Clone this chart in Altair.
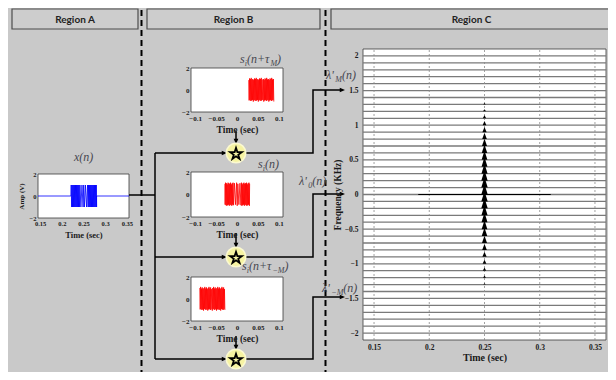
import altair as alt
import pandas as pd

SERIF = "Liberation Serif"
SANS = "Lato"

# ---------------- values ----------------
# Region A : x(n)  (time in s, amplitude in V)
xn_t = [0.145, 0.2210,
        0.2216, 0.2226, 0.2236, 0.2246, 0.2256, 0.2266, 0.2276, 0.2286, 0.2296, 0.2306,
        0.2316, 0.2326, 0.2336, 0.2346, 0.2356, 0.2366, 0.2376, 0.2386, 0.2396, 0.2406,
        0.2418, 0.2440, 0.2465, 0.2490, 0.2505, 0.2520, 0.2545, 0.2570, 0.2594,
        0.2606, 0.2616, 0.2626, 0.2636, 0.2646, 0.2656, 0.2666, 0.2676, 0.2686, 0.2696,
        0.2706, 0.2716, 0.2726, 0.2736, 0.2746, 0.2756, 0.2766, 0.2776, 0.2786, 0.2796,
        0.2802, 0.2802, 0.355]
xn_a = [0, 0,
        1, -1, 1, -1, 1, -1, 1, -1, 1, -1,
        1, -1, 1, -1, 1, -1, 1, -1, 1, -1,
        1, -1, 1, -1, 1, -1, 1, -1, 1,
        -1, 1, -1, 1, -1, 1, -1, 1, -1, 1,
        -1, 1, -1, 1, -1, 1, -1, 1, -1, 1,
        -1, 0, 0]

# Region B : s_i(n)
si0_t = [-0.0290,
         -0.0284, -0.0274, -0.0264, -0.0254, -0.0244, -0.0234, -0.0224, -0.0214, -0.0204, -0.0194,
         -0.0184, -0.0174, -0.0164, -0.0154, -0.0144, -0.0134, -0.0124, -0.0114, -0.0104, -0.0094,
         -0.0082, -0.0060, -0.0035, -0.0010, 0.0005, 0.0020, 0.0045, 0.0070, 0.0094,
         0.0106, 0.0116, 0.0126, 0.0136, 0.0146, 0.0156, 0.0166, 0.0176, 0.0186, 0.0196,
         0.0206, 0.0216, 0.0226, 0.0236, 0.0246, 0.0256, 0.0266, 0.0276, 0.0286, 0.0296,
         0.0302]
si0_a = [0.95,
         -0.9, 1.05, -0.95, 1.0, -1.0, 0.9, -0.95, 1.05, -0.9, 1.0,
         -1.0, 0.95, -0.9, 1.05, -0.95, 0.9, -1.0, 1.0, -0.9, 1.05,
         -0.95, 1.0, -0.9, 1.05, -1.0, 0.95, -0.9, 1.0, -0.95,
         1.05, -1.0, 0.9, -0.95, 1.0, -0.9, 1.05, -1.0, 0.95, -0.9,
         1.0, -0.95, 1.05, -1.0, 0.9, -0.95, 1.0, -0.9, 1.05, -1.0,
         0.95]

# Region B : s_i(n + tau_M)
siM_t = [0.0280, 0.0290, 0.0300, 0.0310, 0.0320, 0.0330, 0.0340, 0.0350, 0.0360, 0.0370,
         0.0380, 0.0390, 0.0400, 0.0410, 0.0420, 0.0430, 0.0440, 0.0450, 0.0460, 0.0470,
         0.0480, 0.0490, 0.0500, 0.0510, 0.0520, 0.0530, 0.0540, 0.0550, 0.0560, 0.0570,
         0.0580, 0.0590, 0.0600, 0.0615, 0.0630, 0.0640, 0.0650, 0.0660, 0.0670, 0.0680,
         0.0690, 0.0700, 0.0710, 0.0720, 0.0730, 0.0740, 0.0750, 0.0760, 0.0770, 0.0780,
         0.0790, 0.0800, 0.0810, 0.0820, 0.0830, 0.0840, 0.0850, 0.0860, 0.0870, 0.0880]
siM_a = [0.9, -0.95, 1.05, -0.9, 1.0, -1.0, 1.1, -0.95, 0.95, -0.9,
         1.0, -1.05, 0.9, -0.95, 1.05, -0.9, 1.0, -1.0, 1.1, -0.95,
         0.95, -0.9, 1.0, -1.05, 0.9, -0.95, 1.05, -0.9, 1.0, -1.0,
         1.1, -0.95, 0.95, -0.9, 1.0, -1.05, 0.9, -0.95, 1.05, -0.9,
         1.0, -1.0, 1.1, -0.95, 0.95, -0.9, 1.0, -1.05, 0.9, -0.95,
         1.05, -0.9, 1.0, -1.0, 1.1, -0.95, 0.95, -0.9, 1.0, -1.05]

# Region B : s_i(n + tau_-M)
simM_t = [-0.0890, -0.0880, -0.0870, -0.0860, -0.0850, -0.0840, -0.0830, -0.0820, -0.0810, -0.0800,
          -0.0790, -0.0780, -0.0770, -0.0760, -0.0750, -0.0740, -0.0730, -0.0720, -0.0710, -0.0700,
          -0.0690, -0.0680, -0.0670, -0.0660, -0.0650, -0.0640, -0.0630, -0.0620, -0.0605, -0.0590,
          -0.0580, -0.0570, -0.0560, -0.0550, -0.0540, -0.0530, -0.0520, -0.0510, -0.0500, -0.0490,
          -0.0480, -0.0470, -0.0460, -0.0450, -0.0440, -0.0430, -0.0420, -0.0410, -0.0400, -0.0390,
          -0.0380, -0.0370, -0.0360, -0.0350, -0.0340, -0.0330, -0.0320, -0.0310, -0.0300, -0.0290]
simM_a = [1.0, -0.95, 1.1, -0.9, 0.95, -1.0, 1.05, -0.95, 0.9, -1.05,
          1.0, -0.9, 1.1, -0.95, 0.95, -1.0, 1.05, -0.9, 0.9, -1.05,
          1.0, -0.95, 1.1, -0.9, 0.95, -1.0, 1.05, -0.95, 0.9, -1.05,
          1.0, -0.9, 1.1, -0.95, 0.95, -1.0, 1.05, -0.9, 0.9, -1.05,
          1.0, -0.95, 1.1, -0.9, 0.95, -1.0, 1.05, -0.95, 0.9, -1.05,
          1.0, -0.9, 1.1, -0.95, 0.95, -1.0, 1.05, -0.9, 0.9, -1.0]

# Region C : frequency traces (KHz) and their peaks at t = 0.25 s
trace_levels = [-2.0, -1.9, -1.8, -1.7, -1.6, -1.5, -1.4, -1.3, -1.2, -1.1, -1.0,
                -0.9, -0.8, -0.7, -0.6, -0.5, -0.4, -0.3, -0.2, -0.1, 0.0,
                0.1, 0.2, 0.3, 0.4, 0.5, 0.6, 0.7, 0.8, 0.9, 1.0,
                1.1, 1.2, 1.3, 1.4, 1.5, 1.6, 1.7, 1.8, 1.9, 2.0]
spike_levels = [-1.3, -1.2, -1.1, -1.0, -0.9, -0.8, -0.7, -0.6, -0.5, -0.4, -0.3, -0.2, -0.1, 0.0,
                0.1, 0.2, 0.3, 0.4, 0.5, 0.6, 0.7, 0.8, 0.9, 1.0, 1.1, 1.2, 1.3]
spike_heights = [0.02, 0.03, 0.045, 0.06, 0.075, 0.09, 0.105, 0.12, 0.13, 0.14, 0.145, 0.15, 0.15, 0.15,
                 0.15, 0.15, 0.145, 0.14, 0.13, 0.12, 0.105, 0.09, 0.075, 0.06, 0.045, 0.03, 0.02]
spike_halfwidths = [0.0011, 0.0013, 0.0015, 0.0017, 0.0019, 0.0021, 0.0023, 0.0025, 0.0026, 0.0027, 0.0028,
                    0.0029, 0.0029, 0.0029, 0.0029, 0.0029, 0.0028, 0.0027, 0.0026, 0.0025, 0.0023,
                    0.0021, 0.0019, 0.0017, 0.0015, 0.0013, 0.0011]
spike_time = 0.25
zero_trace_t = [0.19, 0.31]

# tick values
xn_ticks = [0.15, 0.2, 0.25, 0.3, 0.35]
s_ticks = [-0.1, -0.05, 0, 0.05, 0.1]
amp_ticks = [-2, 0, 2]
tc_ticks = [0.15, 0.2, 0.25, 0.3, 0.35]
fc_ticks = [-2, -1.5, -1, -0.5, 0, 0.5, 1, 1.5, 2]

region_titles = ["Region A", "Region B", "Region C"]

# ---------------- layout (page pixels of the 616x380 frame) ----------------
W, H, M = 600, 364, 8
BG = "#c9c9c9"
LBL = "#474750"


def px():
    return alt.Scale(domain=[M, M + W], range=[0, W], nice=False, zero=False)


def py():
    return alt.Scale(domain=[M, M + H], range=[0, H], nice=False, zero=False)


def pix(df):
    return alt.Chart(pd.DataFrame(df))


header = {"x": [12, 147, 331], "x2": [138, 320, 612], "y": [9, 9, 9], "y2": [29, 29, 29],
          "cx": [75, 233.5, 471.5], "cy": [19.5, 19.5, 19.5], "text": region_titles}
PANELS = {"xn": (38, 174, 129, 218), "s1": (191, 68, 283, 112), "s2": (191, 172, 283, 217),
          "s3": (191, 277, 283, 321), "C": (363, 49, 606, 340)}

layers = []

# separators
layers.append(pix({"x": [141.5, 325.5], "y": [2 + M, 2 + M], "y2": [H + M, H + M]}).mark_rule(
    color="black", strokeWidth=2, strokeDash=[6, 4]).encode(
    x=alt.X("x:Q", scale=px(), axis=None), y=alt.Y("y:Q", scale=py(), axis=None), y2="y2:Q"))

# header boxes and text
layers.append(pix(header).mark_rect(fill="#cdcdcd", stroke="#4d4d4d", strokeWidth=1.2).encode(
    x=alt.X("x:Q", scale=px(), axis=None), x2="x2:Q",
    y=alt.Y("y:Q", scale=py(), axis=None), y2="y2:Q"))
layers.append(pix(header).mark_text(font=SANS, fontWeight="bold", fontSize=10, color="#222",
                                    baseline="middle").encode(
    x=alt.X("cx:Q", scale=px(), axis=None), y=alt.Y("cy:Q", scale=py(), axis=None), text="text:N"))

# white plot areas
pan = {"x": [], "x2": [], "y": [], "y2": []}
for k, (a, b, c, d) in PANELS.items():
    pan["x"].append(a); pan["y"].append(b); pan["x2"].append(c); pan["y2"].append(d)
layers.append(pix(pan).mark_rect(fill="white", stroke="#3a3a3a", strokeWidth=0.8).encode(
    x=alt.X("x:Q", scale=px(), axis=None), x2="x2:Q",
    y=alt.Y("y:Q", scale=py(), axis=None), y2="y2:Q"))


def axis_common(**kw):
    base = dict(ticks=False, domain=False, grid=False, labelFont=SERIF, labelFontWeight="bold",
                labelColor="#1a1a1a", labelOverlap=False, labelFlush=False, titleFont=SERIF,
                titleFontWeight="bold", titleColor="#1a1a1a", zindex=1)
    base.update(kw)
    return alt.Axis(**base)


def signal_panel(t, a, color, box, xdom, xticks, xfont, xtitle_size, ytitle, title_pad):
    x0, y0, x1, y1 = box
    xs = alt.Scale(domain=xdom, range=[x0 - M, x1 - M], nice=False, zero=False)
    ys = alt.Scale(domain=[-2, 2], range=[y1 - M, y0 - M], nice=False, zero=False)
    xa = axis_common(orient="bottom", offset=-(H - (y1 - M)), values=xticks, format=".2~f",
                     labelFontSize=xfont, labelPadding=2, title="Time (sec)",
                     titleFontSize=xtitle_size, titlePadding=title_pad)
    ya_kw = dict(orient="left", offset=-(x0 - M), values=amp_ticks, format="d",
                 labelFontSize=xfont, labelPadding=2)
    if ytitle:
        ya_kw.update(title=ytitle, titleFontSize=7, titlePadding=5)
    else:
        ya_kw.update(title=None)
    ya = axis_common(**ya_kw)
    df = pd.DataFrame({"t": t, "a": a, "i": list(range(len(t)))})
    return alt.Chart(df).mark_line(color=color, strokeWidth=0.8).encode(
        x=alt.X("t:Q", scale=xs, axis=xa), y=alt.Y("a:Q", scale=ys, axis=ya), order="i:Q")


layers.append(signal_panel(xn_t, xn_a, "#0000ff", PANELS["xn"], [0.145, 0.355], xn_ticks, 6.5, 8.5,
                           "Amp (V)", 4))
layers.append(signal_panel(siM_t, siM_a, "#ff0000", PANELS["s1"], [-0.11, 0.11], s_ticks, 7, 9.5,
                           None, 3))
layers.append(signal_panel(si0_t, si0_a, "#ff0000", PANELS["s2"], [-0.11, 0.11], s_ticks, 7, 9.5,
                           None, 3))
layers.append(signal_panel(simM_t, simM_a, "#ff0000", PANELS["s3"], [-0.11, 0.11], s_ticks, 7, 9.5,
                           None, 3))

# ---------------- Region C ----------------
cx0, cy0, cx1, cy1 = PANELS["C"]
TDOM, FDOM = [0.14, 0.36], [-2.1, 2.1]


def CX():
    return alt.Scale(domain=TDOM, range=[cx0 - M, cx1 - M], nice=False, zero=False)


def CY():
    return alt.Scale(domain=FDOM, range=[cy1 - M, cy0 - M], nice=False, zero=False)


cxa = axis_common(orient="bottom", offset=-(H - (cy1 - M)), values=tc_ticks, format=".2~f",
                  labelFontSize=7.5, labelPadding=3, title="Time (sec)", titleFontSize=10,
                  titlePadding=2)
cya = axis_common(orient="left", offset=-(cx0 - M), values=fc_ticks, format=".1~f",
                  labelFontSize=7.5, labelPadding=5, title="Frequency (KHz)", titleFontSize=9.5,
                  titlePadding=2)

traces = pd.DataFrame({"lvl": trace_levels, "t0": TDOM[0], "t1": TDOM[1]})
grid = pd.DataFrame({"t": tc_ticks, "lo": FDOM[0], "hi": FDOM[1]})
zero_tr = pd.DataFrame({"t0": [zero_trace_t[0]], "t1": [zero_trace_t[1]], "lvl": [0.0]})
rows = []
for f, hgt, hw in zip(spike_levels, spike_heights, spike_halfwidths):
    rows += [dict(lvl=f, t=spike_time - hw, top=f),
             dict(lvl=f, t=spike_time, top=f + hgt),
             dict(lvl=f, t=spike_time + hw, top=f)]
spikes = pd.DataFrame(rows)

layers.append(alt.Chart(traces).mark_rule(color="#7a7a7a", strokeWidth=1.3).encode(
    x=alt.X("t0:Q", scale=CX(), axis=cxa), x2="t1:Q", y=alt.Y("lvl:Q", scale=CY(), axis=cya)))
layers.append(alt.Chart(grid).mark_rule(color="#8a8a8a", strokeWidth=0.8, strokeDash=[2, 2]).encode(
    x=alt.X("t:Q", scale=CX(), axis=None), y=alt.Y("lo:Q", scale=CY(), axis=None), y2="hi:Q"))
layers.append(alt.Chart(zero_tr).mark_rule(color="black", strokeWidth=1.2).encode(
    x=alt.X("t0:Q", scale=CX(), axis=None), x2="t1:Q", y=alt.Y("lvl:Q", scale=CY(), axis=None)))
layers.append(alt.Chart(spikes).mark_area(color="black").encode(
    x=alt.X("t:Q", scale=CX(), axis=None),
    y=alt.Y("top:Q", scale=CY(), axis=None, stack=None), y2="lvl:Q", detail="lvl:N"))

# ---------------- signal-flow connectors ----------------
paths = [
    ("in", [(129, 195), (155, 195)]),
    ("bus", [(155, 153), (155, 359)]),
    ("b1", [(155, 153), (224, 153)]),
    ("b2", [(155, 257), (224, 257)]),
    ("b3", [(155, 359), (224, 359)]),
    ("d1", [(236, 131), (236, 141)]),
    ("d2", [(236, 233), (236, 245)]),
    ("d3", [(236, 336), (236, 347)]),
    ("o1", [(245, 153), (313, 153), (313, 90), (340, 90)]),
    ("o2", [(245, 257), (313, 257), (313, 194), (340, 194)]),
    ("o3", [(245, 359), (313, 359), (313, 297), (340, 297)]),
]
prow = []
for pid, pts in paths:
    for j, (x, y) in enumerate(pts):
        prow.append(dict(pid=pid, o=j, x=x, y=y))
layers.append(pix(prow).mark_line(color="black", strokeWidth=1.5).encode(
    x=alt.X("x:Q", scale=px(), axis=None), y=alt.Y("y:Q", scale=py(), axis=None),
    detail="pid:N", order="o:Q"))

ARROW = "M0,0L-1,-0.45L-1,0.45Z"
arrows = {"x": [227, 227, 227, 236, 236, 236, 345, 345, 345],
          "y": [153, 257, 359, 144, 248, 350, 90, 194, 297],
          "ang": [0, 0, 0, 90, 90, 90, 0, 0, 0]}
layers.append(pix(arrows).mark_point(shape=ARROW, filled=True, color="black", size=110, opacity=1).encode(
    x=alt.X("x:Q", scale=px(), axis=None), y=alt.Y("y:Q", scale=py(), axis=None),
    angle=alt.Angle("ang:Q", scale=None)))

stars = {"x": [236, 236, 236], "y": [153, 257, 359]}
STAR = ("M0,-1L0.2245,-0.309L0.951,-0.309L0.363,0.118L0.588,0.809L0,0.382L-0.588,0.809"
        "L-0.363,0.118L-0.951,-0.309L-0.2245,-0.309Z")
layers.append(pix(stars).mark_point(shape="circle", filled=True, fill="#f6f3a2", stroke="#fbf9d0",
                                    strokeWidth=1.5, size=380, opacity=1).encode(
    x=alt.X("x:Q", scale=px(), axis=None), y=alt.Y("y:Q", scale=py(), axis=None)))
layers.append(pix({"x": [236, 236, 236], "y": [154, 258, 360]}).mark_point(
    shape=STAR, filled=False, stroke="black", strokeWidth=1.8, size=150, opacity=1).encode(
    x=alt.X("x:Q", scale=px(), axis=None), y=alt.Y("y:Q", scale=py(), axis=None)))

# ---------------- math labels ----------------
EM = {"s": 0.389, "i": 0.278, "(": 0.333, ")": 0.333, "n": 0.5, "+": 0.675, "τ": 0.45, "M": 0.833,
      "−": 0.675, "x": 0.444, "0": 0.5, "λ": 0.52, "'": 0.25}
SZ = {"main": 12, "sub": 8}


def tex(x0, y0, parts):
    out, x = [], x0
    for p in parts:
        text, kind = p[0], p[1]
        out.append(dict(x=x, y=y0 + (3 if kind == "sub" else 0), text=text, kind=kind))
        x += sum(EM.get(c, 0.5) for c in text) * SZ[kind]
    return out


lab = []
lab += tex(74, 161, [("x(n)", "main")])
lab += tex(240, 63, [("s", "main"), ("i", "sub"), ("(n+τ", "main"), ("M", "sub"), (")", "main")])
lab += tex(258, 168, [("s", "main"), ("i", "sub"), ("(n)", "main")])
lab += tex(242, 270, [("s", "main"), ("i", "sub"), ("(n+τ", "main"), ("−M", "sub"), (")", "main")])
lab += tex(326, 79, [("λ'", "main"), ("M", "sub"), ("(n)", "main")])
lab += tex(299, 185, [("λ'", "main"), ("0", "sub"), ("(n)", "main")])
lab += tex(322, 292, [("λ'", "main"), ("−M", "sub"), ("(n)", "main")])
labdf = pd.DataFrame(lab)
for kind in ["main", "sub"]:
    layers.append(alt.Chart(labdf[labdf.kind == kind]).mark_text(
        font=SERIF, fontStyle="italic", fontSize=SZ[kind], color=LBL, align="left",
        baseline="alphabetic").encode(
        x=alt.X("x:Q", scale=px(), axis=None), y=alt.Y("y:Q", scale=py(), axis=None), text="text:N"))

chart = alt.layer(*layers).resolve_scale(x="independent", y="independent").properties(
    width=W, height=H, padding=0, autosize=alt.AutoSizeParams(type="none"), background=BG
).configure_view(stroke=None)

chart.save("out.html", embed_options={"renderer": "svg", "actions": False})
